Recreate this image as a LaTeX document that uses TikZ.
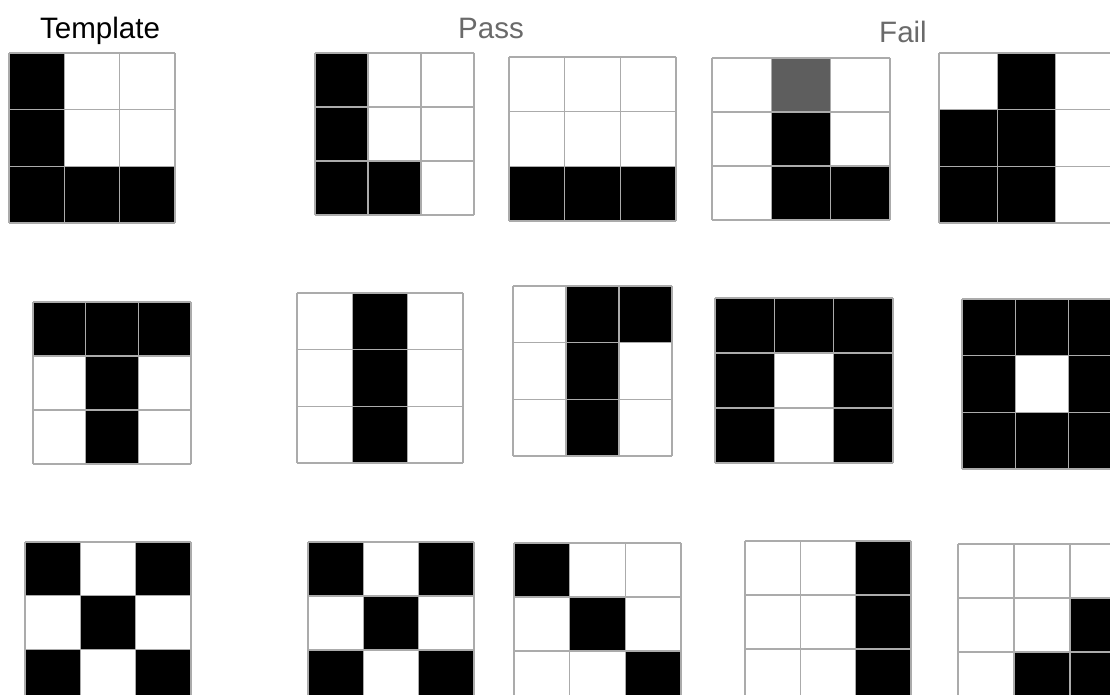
\documentclass[tikz,border=0pt]{standalone}
\usepackage{fontspec}
\setmainfont{Liberation Sans}
\usepackage{tikz}
\definecolor{gridgray}{HTML}{ABABAB}
\definecolor{cellgray}{HTML}{5E5E5E}
\definecolor{labelgray}{HTML}{6A6A6A}

% 3x3 grid: x0, y0, width, height (pixels), filled cells row/col/colour
\newcommand{\pixgrid}[5]{%
  \foreach \r/\c/\f in {#5}{\fill[\f] ({#1+\c*#3/3},{#2+\r*#4/3}) rectangle ++({#3/3},{#4/3});}
  \foreach \k in {0,...,3}{%
    \draw[gridline] ({#1+\k*#3/3},#2) -- ++(0,#4);
    \draw[gridline] (#1,{#2+\k*#4/3}) -- ++(#3,0);}%
}

\begin{document}
\begin{tikzpicture}[x=0.025cm,y=-0.025cm,
  gridline/.style={draw=gridgray,line width=0.9pt},
  head/.style={anchor=base,font=\fontsize{21}{24}\selectfont}]
\useasboundingbox (0,0) rectangle (1110,695);
\clip (0,0) rectangle (1110,695);
% headings
\node[head,color=black] (tmpl) at (100,39) {Template};
\node[head,color=labelgray] (pass) at (491,39) {Pass};
\node[head,color=labelgray] (fail) at (903,43) {Fail};
% row 1: L
\pixgrid{9}{53}{166}{170}{0/0/black,1/0/black,2/0/black,2/1/black,2/2/black}
\pixgrid{315}{53}{159}{162}{0/0/black,1/0/black,2/0/black,2/1/black}
\pixgrid{509}{57}{167}{164}{2/0/black,2/1/black,2/2/black}
\pixgrid{712}{58}{178}{162}{0/1/cellgray,1/1/black,2/1/black,2/2/black}
\pixgrid{939}{53}{175}{170}{0/1/black,1/0/black,1/1/black,2/0/black,2/1/black}
% row 2: T
\pixgrid{33}{302}{158}{162}{0/0/black,0/1/black,0/2/black,1/1/black,2/1/black}
\pixgrid{297}{293}{166}{170}{0/1/black,1/1/black,2/1/black}
\pixgrid{513}{286}{159}{170}{0/1/black,0/2/black,1/1/black,2/1/black}
\pixgrid{715}{298}{178}{165}{0/0/black,0/1/black,0/2/black,1/0/black,1/2/black,2/0/black,2/2/black}
\pixgrid{962}{299}{160}{170}{0/0/black,0/1/black,0/2/black,1/0/black,1/2/black,2/0/black,2/1/black,2/2/black}
% row 3: X
\pixgrid{25}{542}{166}{161}{0/0/black,0/2/black,1/1/black,2/0/black,2/2/black}
\pixgrid{308}{542}{166}{162}{0/0/black,0/2/black,1/1/black,2/0/black,2/2/black}
\pixgrid{514}{543}{167}{162}{0/0/black,1/1/black,2/2/black}
\pixgrid{745}{541}{166}{162}{0/2/black,1/2/black,2/2/black}
\pixgrid{958}{544}{168}{162}{1/2/black,2/1/black,2/2/black}
\end{tikzpicture}
\end{document}
